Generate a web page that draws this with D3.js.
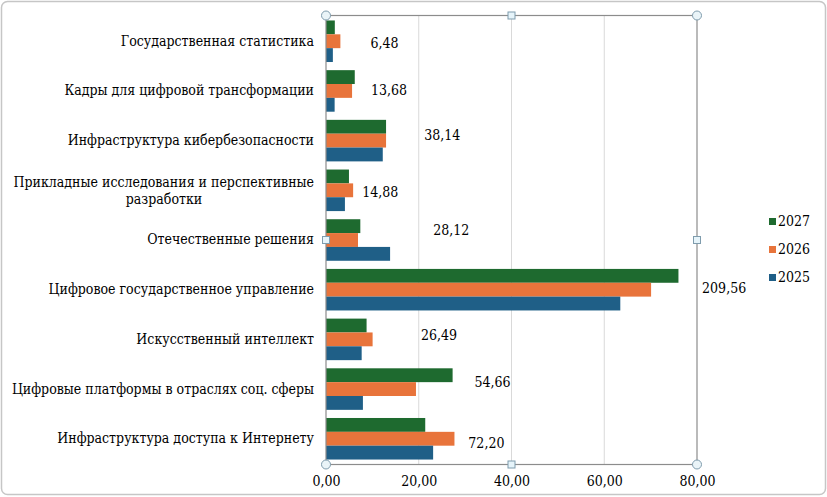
<!DOCTYPE html>
<html>
<head>
<meta charset="utf-8">
<script src="https://cdnjs.cloudflare.com/ajax/libs/d3/7.8.5/d3.min.js"></script>
<style>
  html, body { margin: 0; padding: 0; background: #fff; }
  #chart { width: 827px; height: 497px; }
  svg text { font-family: "DejaVu Serif Condensed", "DejaVu Serif", serif; font-stretch: condensed; font-size: 14px; fill: #000; }
</style>
</head>
<body>
<div id="chart"></div>
<script>
"use strict";
// categories top to bottom
var categories = [
    "Государственная статистика",
    "Кадры для цифровой трансформации",
    "Инфраструктура  кибербезопасности",
    "Прикладные исследования и перспективные|разработки",
    "Отечественные решения",
    "Цифровое государственное управление",
    "Искусственный интеллект",
    "Цифровые платформы в отраслях соц. сферы",
    "Инфраструктура  доступа к Интернету"
];
var series = ["2027", "2026", "2025"];
var values2027 = [1.90, 6.20, 12.95, 4.95, 7.40, 76.00, 8.75, 27.30, 21.40];
var values2026 = [3.10, 5.62, 12.95, 5.85, 6.90, 70.10, 10.05, 19.40, 27.70];
var values2025 = [1.48, 1.86, 12.24, 4.08, 13.82, 63.46, 7.69, 7.96, 23.10];
var totals = ["6,48", "13,68", "38,14", "14,88", "28,12", "209,56", "26,49", "54,66", "72,20"];
// where the manual text boxes for the totals sit (axis units, px shift)
var totalAnchorX = [9.6, 9.7, 21.2, 7.8, 23.1, 81.1, 20.5, 32.0, 30.7];
var totalShiftY = [2, -1, -6, 2, -10, -2, -4, -7, 4];
var tickValues = [0, 20, 40, 60, 80];
var colors = ["#1e6a2f", "#e8743b", "#1f5f87"];

var width = 827, height = 497;
var margin = { top: 15.5, right: 130, bottom: 32.5, left: 326 };

var svg = d3.select("#chart").append("svg")
    .attr("width", width)
    .attr("height", height);

// outer chart frame
svg.append("rect")
    .attr("x", 1.5).attr("y", 1.5)
    .attr("width", width - 3).attr("height", height - 4)
    .attr("rx", 6)
    .attr("fill", "#fff")
    .attr("stroke", "#c6c6c6")
    .attr("stroke-width", 1.5);

var x = d3.scaleLinear()
    .domain([0, 80])
    .range([margin.left, width - margin.right]);
var y = d3.scaleBand()
    .domain(categories)
    .range([margin.top, height - margin.bottom])
    .paddingInner(0.164)
    .paddingOuter(0.1);
var ySub = d3.scaleBand()
    .domain(series)
    .range([0, y.bandwidth()]);
var color = d3.scaleOrdinal().domain(series).range(colors);

var rows = categories.map(function (c, i) {
    return { cat: c, vals: [values2027[i], values2026[i], values2025[i]] };
});

// gridlines
svg.append("g")
    .selectAll("line")
    .data(tickValues.slice(1, -1))
    .enter().append("line")
    .attr("x1", function (d) { return x(d); })
    .attr("x2", function (d) { return x(d); })
    .attr("y1", margin.top)
    .attr("y2", height - margin.bottom)
    .attr("stroke", "#d9d9d9")
    .attr("stroke-width", 1);

// bars
var groups = svg.append("g").selectAll("g")
    .data(rows)
    .enter().append("g")
    .attr("transform", function (d) { return "translate(0," + y(d.cat) + ")"; });
groups.selectAll("rect")
    .data(function (d) {
        return series.map(function (s, k) { return { key: s, value: d.vals[k] }; });
    })
    .enter().append("rect")
    .attr("x", x(0))
    .attr("y", function (d) { return ySub(d.key); })
    .attr("width", function (d) { return x(d.value) - x(0); })
    .attr("height", ySub.bandwidth())
    .attr("fill", function (d) { return color(d.key); });

// plot area frame (selected look)
svg.append("rect")
    .attr("x", x(0)).attr("y", margin.top)
    .attr("width", x(80) - x(0))
    .attr("height", height - margin.bottom - margin.top)
    .attr("fill", "none")
    .attr("stroke", "#8c8c8c")
    .attr("stroke-width", 1.2);

// x axis
var xAxis = d3.axisBottom(x)
    .tickValues(tickValues)
    .tickSize(0)
    .tickPadding(12)
    .tickFormat(function (d) { return d3.format(".2f")(d).replace(".", ","); });
var gx = svg.append("g")
    .attr("transform", "translate(0," + (height - margin.bottom) + ")")
    .call(xAxis);
gx.select(".domain").remove();

// y axis labels
var yAxis = d3.axisLeft(y).tickSize(0).tickPadding(12);
var gy = svg.append("g")
    .attr("transform", "translate(" + x(0) + ",0)")
    .call(yAxis);
gy.select(".domain").remove();
gy.selectAll("text")
    .each(function (d) {
        var parts = d.split("|");
        var t = d3.select(this).text(null);
        if (parts.length === 1) {
            t.text(parts[0]);
            return;
        }
        t.attr("dy", null);
        t.append("tspan").attr("x", -12).attr("dy", "-0.25em").text(parts[0]);
        t.append("tspan").attr("x", -162).attr("dy", "1.23em").attr("text-anchor", "middle").text(parts[1]);
    });

// total labels
svg.append("g").selectAll("text")
    .data(totals)
    .enter().append("text")
    .attr("x", function (d, i) { return x(totalAnchorX[i]); })
    .attr("y", function (d, i) { return y(categories[i]) + y.bandwidth() / 2 + totalShiftY[i]; })
    .attr("dy", "0.35em")
    .text(function (d) { return d; });

// selection handles
var x0 = x(0), x1 = x(80), xm = (x0 + x1) / 2;
var y0 = margin.top, y1 = height - margin.bottom, ym = (y0 + y1) / 2;
var corners = [[x0, y0], [x1, y0], [x0, y1], [x1, y1]];
var mids = [[xm, y0], [xm, y1], [x0, ym], [x1, ym]];
svg.append("g").selectAll("circle")
    .data(corners)
    .enter().append("circle")
    .attr("cx", function (d) { return d[0]; })
    .attr("cy", function (d) { return d[1]; })
    .attr("r", 4.5)
    .attr("fill", "#eaf4f8")
    .attr("stroke", "#7f9cad")
    .attr("stroke-width", 1);
svg.append("g").selectAll("rect")
    .data(mids)
    .enter().append("rect")
    .attr("x", function (d) { return d[0] - 3.5; })
    .attr("y", function (d) { return d[1] - 3.5; })
    .attr("width", 7).attr("height", 7)
    .attr("fill", "#e6f4fa")
    .attr("stroke", "#7f9cad")
    .attr("stroke-width", 1);

// legend
var legend = svg.append("g").selectAll("g")
    .data(series)
    .enter().append("g")
    .attr("transform", function (d, i) { return "translate(769," + (221.5 + i * 28) + ")"; });
legend.append("rect")
    .attr("x", 0).attr("y", -3.5)
    .attr("width", 7).attr("height", 7)
    .attr("fill", function (d) { return color(d); });
legend.append("text")
    .attr("x", 9).attr("dy", "0.35em")
    .text(function (d) { return d; });
</script>
</body>
</html>
